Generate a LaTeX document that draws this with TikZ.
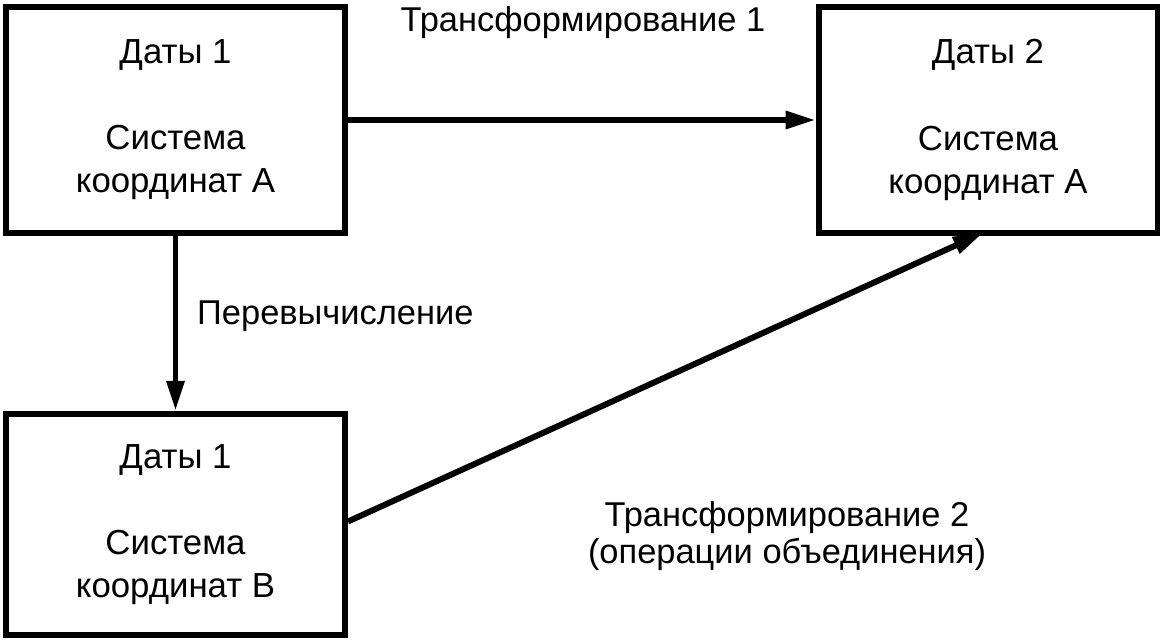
\documentclass[tikz,border=0pt]{standalone}
\usepackage{fontspec}
\setmainfont{Liberation Sans}
\usetikzlibrary{arrows.meta}

\begin{document}
\begin{tikzpicture}[x=0.02cm,y=-0.02cm,
		box/.style={draw,line width=3.4pt,minimum width=6.78cm,align=center,
			font=\fontsize{19.8}{24.5}\selectfont},
		arr/.style={line width=3.4pt,-{Triangle[length=0.6cm,width=0.34cm]}},
		lbl/.style={align=center,font=\fontsize{19.6}{21}\selectfont}]
	\useasboundingbox (0,0) rectangle (1165,642);

	% boxes
	\node[box,minimum height=4.52cm] (datA) at (175.5,120) {Даты 1\\ \\Система\\координат А};
	\node[box,minimum height=4.52cm] (datB) at (988,120) {Даты 2\\ \\Система\\координат А};
	\node[box,minimum height=4.43cm] (datC) at (175.5,524.5) {Даты 1\\ \\Система\\координат В};

	% arrows
	\draw[arr] (datA.east) -- (datB.west);
	\draw[arr] (datA.south) -- (datC.north);
	\coordinate (endT) at (983,233);
	\draw[arr] ([yshift=0.06cm]datC.east) -- (endT);

	% labels
	\node[lbl] (trA) at (583,23) {Трансформирование 1};
	\node[lbl,anchor=west] (perev) at (191,316) {Перевычисление};
	\node[lbl] (trB) at (787,536) {Трансформирование 2\\(операции объединения)};
	%\node[lbl] at (583,300) {};
\end{tikzpicture}
\end{document}
